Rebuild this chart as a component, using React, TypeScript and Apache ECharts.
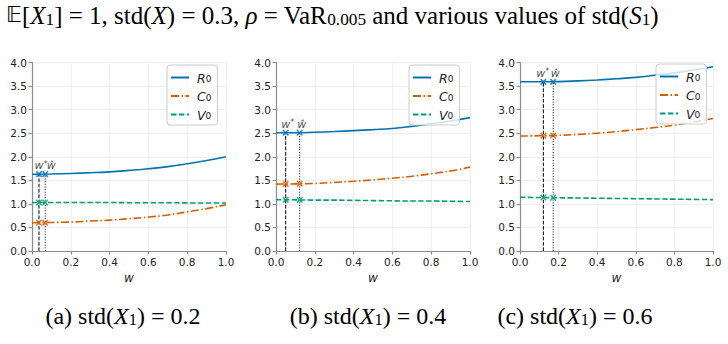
import React, { useEffect, useRef } from 'react';
import * as echarts from 'echarts';

// ---- data ----
const W = [0, 0.1, 0.2, 0.3, 0.4, 0.5, 0.6, 0.7, 0.8, 0.9, 1.0];

const R0_A = [1.63, 1.635, 1.645, 1.66, 1.68, 1.71, 1.745, 1.79, 1.85, 1.92, 2.0];
const C0_A = [0.6, 0.605, 0.615, 0.635, 0.655, 0.685, 0.72, 0.765, 0.83, 0.9, 0.98];
const V0_A = [1.03, 1.03, 1.03, 1.03, 1.03, 1.025, 1.025, 1.025, 1.02, 1.02, 1.02];

const R0_B = [2.51, 2.51, 2.52, 2.535, 2.555, 2.575, 2.6, 2.645, 2.7, 2.76, 2.83];
const C0_B = [1.42, 1.425, 1.435, 1.455, 1.48, 1.51, 1.545, 1.585, 1.64, 1.7, 1.78];
const V0_B = [1.09, 1.085, 1.08, 1.08, 1.075, 1.07, 1.065, 1.06, 1.06, 1.055, 1.05];

const R0_C = [3.59, 3.59, 3.595, 3.61, 3.63, 3.655, 3.685, 3.73, 3.78, 3.84, 3.91];
const C0_C = [2.44, 2.445, 2.455, 2.475, 2.5, 2.535, 2.575, 2.62, 2.67, 2.74, 2.81];
const V0_C = [1.14, 1.135, 1.13, 1.125, 1.12, 1.115, 1.11, 1.105, 1.1, 1.095, 1.09];

const W_STAR = [0.036, 0.05, 0.121];
const W_HAT = [0.068, 0.122, 0.172];
// values at [w*, ŵ]
const R0_MARK = [[1.63, 1.63], [2.51, 2.51], [3.59, 3.59]];
const C0_MARK = [[0.6, 0.6], [1.425, 1.43], [2.445, 2.45]];
const V0_MARK = [[1.03, 1.03], [1.085, 1.085], [1.135, 1.13]];

const CAPTIONS = ['a', 'b', 'c'];
const CAPTION_VALUES = ['0.2', '0.4', '0.6'];
const X_TICKS_INTERVAL = 0.2;
const Y_TICKS_INTERVAL = 0.5;
const SERIES_NAMES = ['R0', 'C0', 'V0'];

// ---- styles / layout ----
const BLUE = '#0173b2';
const ORANGE = '#d55e00';
const GREEN = '#029e73';
const SANS = '"DejaVu Sans", sans-serif';
const SERIF = '"Liberation Serif", "DejaVu Serif", serif';
const TXT = '#222222';

const GRID_POS = [
  { left: 32, width: 194 },
  { left: 276, width: 194 },
  { left: 520, width: 193 },
];
const LEGEND_POS = [
  { left: 167, top: 65 },
  { left: 409, top: 65 },
  { left: 656, top: 64 },
];
const CAPTION_X = [123, 368, 575];
const STAR_LABEL_DX = [2, 2, -0.5];
const HAT_LABEL_DX = [6, 2, 2];

const mathRich = {
  i: { fontFamily: SANS, fontStyle: 'italic', fontSize: 12.5, color: TXT, lineHeight: 12, verticalAlign: 'top' },
  s: { fontFamily: SANS, fontSize: 9, color: TXT, lineHeight: 9, verticalAlign: 'bottom' },
};

function buildOption() {
  const R0 = [R0_A, R0_B, R0_C];
  const C0 = [C0_A, C0_B, C0_C];
  const V0 = [V0_A, V0_B, V0_C];

  const grid = GRID_POS.map((g) => ({ left: g.left, width: g.width, top: 62.5, height: 188.5 }));
  const axisLineStyle = { color: '#8c8c8c', width: 1.2 };

  const xAxis = GRID_POS.map((_, i) => ({
    type: 'value',
    gridIndex: i,
    min: 0,
    max: 1,
    interval: X_TICKS_INTERVAL,
    name: 'w',
    nameLocation: 'middle',
    nameGap: 19,
    nameTextStyle: { fontFamily: SANS, fontStyle: 'italic', fontSize: 12, color: TXT },
    axisLine: { show: true, lineStyle: axisLineStyle },
    axisTick: { show: true, length: 3.5, lineStyle: axisLineStyle },
    axisLabel: { fontFamily: SANS, fontSize: 10.5, color: TXT, margin: 5, formatter: (v: number) => v.toFixed(1) },
    splitLine: { show: true, lineStyle: { color: '#ebebeb', width: 0.8 } },
  }));
  const yAxis = GRID_POS.map((_, i) => ({
    type: 'value',
    gridIndex: i,
    min: 0,
    max: 4,
    interval: Y_TICKS_INTERVAL,
    axisLine: { show: true, lineStyle: axisLineStyle },
    axisTick: { show: true, length: 3.5, lineStyle: axisLineStyle },
    axisLabel: { fontFamily: SANS, fontSize: 10.5, color: TXT, margin: 5, formatter: (v: number) => v.toFixed(1) },
    splitLine: { show: true, lineStyle: { color: '#ebebeb', width: 0.8 } },
  }));

  const series: any[] = [];
  for (let i = 0; i < 3; i++) {
    const ax = { xAxisIndex: i, yAxisIndex: i };
    const mk = (name: string, vals: number[], color: string, type: any) => ({
      ...ax,
      type: 'line',
      name,
      data: W.map((w, k) => [w, vals[k]]),
      smooth: true,
      symbol: 'none',
      color,
      lineStyle: { color, width: 1.6, type },
      z: 3,
    });
    series.push(mk('R0', R0[i], BLUE, 'solid'));
    series.push(mk('C0', C0[i], ORANGE, [8, 2.5, 1.5, 2.5]));
    series.push(mk('V0', V0[i], GREEN, [5.5, 2.4]));

    // vertical reference lines
    series.push({
      ...ax,
      type: 'line',
      name: 'wstar-line',
      data: [[W_STAR[i], 0], [W_STAR[i], R0_MARK[i][0]]],
      symbol: 'none',
      lineStyle: { color: '#000', width: 1, type: [3.7, 1.6] },
      z: 2,
    });
    series.push({
      ...ax,
      type: 'line',
      name: 'what-line',
      data: [[W_HAT[i], 0], [W_HAT[i], R0_MARK[i][1]]],
      symbol: 'none',
      lineStyle: { color: '#000', width: 1, type: [1, 1.65] },
      z: 2,
    });

    // x markers
    const marks: [number[][], string][] = [[R0_MARK, BLUE], [C0_MARK, ORANGE], [V0_MARK, GREEN]];
    marks.forEach(([m, color]) => {
      series.push({
        ...ax,
        type: 'scatter',
        name: 'mark',
        data: [[W_STAR[i], m[i][0]], [W_HAT[i], m[i][1]]],
        symbol: 'path://M0,0L10,10M10,0L0,10',
        symbolSize: 5.5,
        itemStyle: { color: 'none', borderColor: color, borderWidth: 1.6 },
        z: 4,
      });
    });

    // w* / ŵ labels
    series.push({
      ...ax,
      type: 'scatter',
      name: 'labels',
      data: [
        { value: [W_STAR[i], R0_MARK[i][0]], label: { offset: [STAR_LABEL_DX[i], 0] } },
        { value: [W_HAT[i], R0_MARK[i][1]], label: { offset: [HAT_LABEL_DX[i], 0] } },
      ],
      symbolSize: 0.1,
      itemStyle: { color: 'transparent' },
      silent: true,
      label: {
        show: true,
        position: 'top',
        distance: 3,
        lineHeight: 14,
        formatter: (p: any) => (p.dataIndex === 0 ? '{w|w}{p|*}' : '{w|ŵ}'),
        rich: {
          w: { fontFamily: SANS, fontStyle: 'italic', fontSize: 11, color: TXT, lineHeight: 11, verticalAlign: 'bottom' },
          p: { fontFamily: SANS, fontSize: 8, color: TXT, lineHeight: 8, verticalAlign: 'top' },
        },
      },
      z: 5,
    });
  }

  const legend = LEGEND_POS.map((p) => ({
    orient: 'vertical',
    left: p.left,
    top: p.top,
    data: SERIES_NAMES,
    itemWidth: 18,
    itemHeight: 13,
    itemGap: 5.5,
    padding: [6.5, 6, 3.5, 3],
    borderColor: '#cccccc',
    borderWidth: 1,
    borderRadius: 3,
    backgroundColor: 'rgba(255,255,255,0.8)',
    selectedMode: false,
    itemStyle: { color: 'transparent', borderWidth: 0, opacity: 0 },
    formatter: (n: string) => `{i|${n[0]}}{s|${n[1]}}`,
    textStyle: { lineHeight: 13, rich: mathRich, padding: [0, 0, 0, 3] },
  }));

  const titleRich = (size: number) => ({
    r: { fontFamily: SERIF, fontSize: size, color: '#000', lineHeight: size, verticalAlign: 'top' },
    i: { fontFamily: SERIF, fontStyle: 'italic', fontSize: size, color: '#000', lineHeight: size, verticalAlign: 'top' },
    s: { fontFamily: SERIF, fontSize: size * 0.69, color: '#000', lineHeight: size * 0.67, verticalAlign: 'bottom' },
    b: { fontFamily: '"DejaVu Sans", serif', fontSize: size * 0.875, color: '#000', lineHeight: size, verticalAlign: 'top' },
  });

  const graphic: any[] = [
    {
      type: 'text',
      x: 6,
      y: 3,
      style: {
        text: '{b|𝔼}{r|[}{i|X}{s|1}{r|] = 1, std(}{i|X}{r|) = 0.3, }{i|ρ}{r| = VaR}{s|0.005}{r| and various values of std(}{i|S}{s|1}{r|)}',
        rich: titleRich(25),
        lineHeight: 28,
        fill: '#000',
        font: '25px ' + SERIF,
      },
    },
  ];
  CAPTIONS.forEach((c, i) => {
    graphic.push({
      type: 'text',
      x: CAPTION_X[i],
      y: 304,
      style: {
        text: `{r|(${c}) std(}{i|X}{s|1}{r|) = ${CAPTION_VALUES[i]}}`,
        rich: titleRich(24),
        lineHeight: 27,
        align: 'center',
        textAlign: 'center',
        fill: '#000',
        font: '24px ' + SERIF,
      },
    });
  });

  return {
    animation: false,
    backgroundColor: '#ffffff',
    grid,
    xAxis,
    yAxis,
    legend,
    series,
    graphic,
  };
}

export default function App() {
  const ref = useRef<HTMLDivElement>(null);
  useEffect(() => {
    const chart = echarts.init(ref.current as HTMLDivElement, null, { renderer: 'svg' });
    chart.setOption(buildOption() as any);
    return () => chart.dispose();
  }, []);
  return (
    <div
      ref={ref}
      style={{ position: 'fixed', left: 0, top: 0, width: 728, height: 344, background: '#fff' }}
    />
  );
}
